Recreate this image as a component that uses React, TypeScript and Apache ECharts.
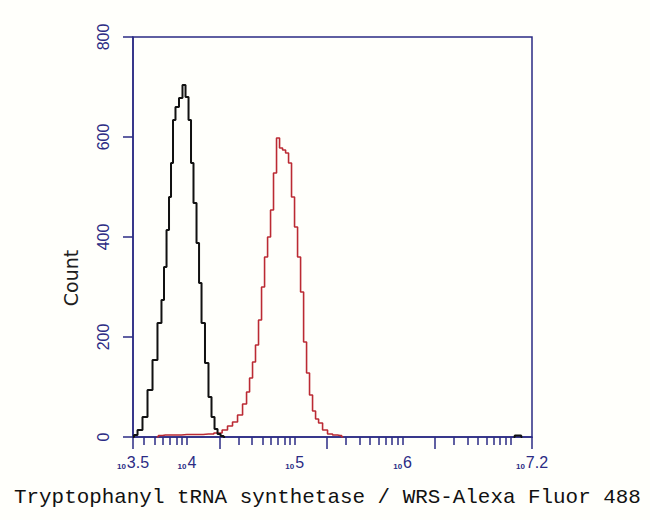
import React, { useEffect, useRef } from "react";
import * as echarts from "echarts";

// x values are log10(fluorescence intensity)
const blackLogX = [3.5, 3.519, 3.565, 3.611, 3.658, 3.704, 3.75, 3.778, 3.797, 3.825, 3.843, 3.862, 3.88, 3.908, 3.945, 3.973, 4.001, 4.029, 4.047, 4.075, 4.103, 4.122, 4.149, 4.186, 4.214, 4.242, 4.27, 4.298, 4.326, 4.354];
const blackCounts = [0, 4, 14, 40, 94, 154, 228, 274, 340, 414, 480, 548, 634, 660, 678, 704, 680, 634, 548, 468, 388, 308, 228, 148, 80, 40, 16, 6, 2, 0];

const blackEndLogX = [7.03, 7.05, 7.09, 7.11];
const blackEndCounts = [0, 3, 3, 0];

const redLogX = [3.72, 3.75, 3.8, 3.9, 4.0, 4.1, 4.2, 4.3, 4.353, 4.4, 4.446, 4.493, 4.539, 4.567, 4.595, 4.622, 4.65, 4.678, 4.706, 4.734, 4.762, 4.789, 4.817, 4.845, 4.873, 4.901, 4.929, 4.956, 4.984, 5.012, 5.04, 5.068, 5.096, 5.123, 5.151, 5.179, 5.207, 5.235, 5.281, 5.327, 5.374, 5.42, 5.45];
const redCounts = [0, 3, 4, 4, 5, 5, 6, 8, 14, 22, 30, 44, 66, 90, 118, 150, 184, 234, 300, 360, 400, 454, 528, 598, 578, 574, 568, 548, 480, 420, 360, 290, 190, 128, 84, 52, 36, 28, 14, 6, 4, 3, 0];

const xLabelValues = [3.5, 4, 5, 6, 7.2];
const xLabelExponents = ["3.5", "4", "5", "6", "7.2"];
const shortTickIntensities = [
  4e3, 5e3, 6e3, 7e3, 8e3, 9e3, 1e4,
  3e4, 4e4, 5e4, 6e4, 7e4, 8e4, 9e4, 1e5,
  3e5, 4e5, 5e5, 6e5, 7e5, 8e5, 9e5, 1e6,
  3e6, 4e6, 5e6, 6e6, 7e6, 8e6, 9e6, 1e7,
];
const longTickIntensities = [Math.pow(10, 3.5), 2e4, 2e5, 2e6, Math.pow(10, 7.2)];
const yTicks = [0, 200, 400, 600, 800];

const xTitle = "Tryptophanyl tRNA synthetase / WRS-Alexa Fluor 488";
const yTitle = "Count";

const NAVY = "#2b2b84";

export default function App() {
  const ref = useRef<HTMLDivElement>(null);
  useEffect(() => {
    if (!ref.current) return;
    const chart = echarts.init(ref.current, undefined, { renderer: "svg" });
    const pair = (xs: number[], ys: number[]) => xs.map((x, i) => [x, ys[i]]);
    chart.setOption({
      animation: false,
      backgroundColor: "#fffffb",
      title: {
        text: xTitle,
        left: 9,
        top: 482,
        textStyle: { fontFamily: "Liberation Mono", fontSize: 20.9, fontWeight: "normal", color: "#111" },
      },
      graphic: [
        {
          type: "text",
          x: 71,
          y: 278,
          rotation: Math.PI / 2,
          style: {
            text: yTitle,
            fontFamily: "DejaVu Sans",
            fontSize: 19,
            fill: "#1e1e1e",
            align: "center",
            verticalAlign: "middle",
          },
        },
      ],
      grid: {
        left: 133,
        top: 37,
        width: 399,
        height: 400,
        show: true,
        borderColor: NAVY,
        borderWidth: 1.5,
        backgroundColor: "transparent",
      },
      xAxis: [
        {
          type: "value",
          min: 3.5,
          max: 7.2,
          position: "bottom",
          splitLine: { show: false },
          axisLine: { show: true, lineStyle: { color: NAVY, width: 1.5 } },
          axisTick: {
            show: true,
            customValues: shortTickIntensities.map((v) => Math.log10(v)),
            length: 8,
            lineStyle: { color: NAVY, width: 1.5 },
          },
          axisLabel: {
            customValues: xLabelValues,
            margin: 17,
            color: NAVY,
            formatter: (v: number) => {
              let idx = 0;
              let best = Infinity;
              xLabelValues.forEach((lv, i) => {
                if (Math.abs(lv - v) < best) { best = Math.abs(lv - v); idx = i; }
              });
              return "{b|10}{e|" + xLabelExponents[idx] + "}";
            },
            rich: {
              b: { fontSize: 8, fontWeight: "bold", fontFamily: "Liberation Sans", color: NAVY, verticalAlign: "bottom", lineHeight: 16, padding: [0, 1, 0, 0] },
              e: { fontSize: 16, fontFamily: "Liberation Sans", color: NAVY, verticalAlign: "bottom", lineHeight: 16 },
            },
          },
        },
        {
          type: "value",
          min: 3.5,
          max: 7.2,
          position: "bottom",
          offset: 0,
          splitLine: { show: false },
          axisLine: { show: false },
          axisTick: {
            show: true,
            customValues: longTickIntensities.map((v) => Math.log10(v)),
            length: 12,
            lineStyle: { color: NAVY, width: 1.5 },
          },
          axisLabel: { show: false },
        },
      ],
      yAxis: {
        type: "value",
        min: yTicks[0],
        max: yTicks[yTicks.length - 1],
        interval: 200,
        splitLine: { show: false },
        axisLine: { show: true, lineStyle: { color: NAVY, width: 1.5 } },
        axisTick: { show: true, length: 10, lineStyle: { color: NAVY, width: 1.5 } },
        axisLabel: {
          rotate: 90,
          margin: 22,
          color: NAVY,
          fontFamily: "Liberation Sans",
          fontSize: 16,
        },
      },
      series: [
        {
          type: "line",
          xAxisIndex: 0,
          data: pair(redLogX, redCounts),
          step: "middle",
          showSymbol: false,
          lineStyle: { color: "#bb2a33", width: 1.6 },
          z: 3,
        },
        {
          type: "line",
          xAxisIndex: 0,
          data: pair(blackLogX, blackCounts),
          step: "middle",
          showSymbol: false,
          lineStyle: { color: "#111", width: 2 },
          z: 4,
        },
        {
          type: "line",
          xAxisIndex: 0,
          data: pair(blackEndLogX, blackEndCounts),
          step: "middle",
          showSymbol: false,
          lineStyle: { color: "#111", width: 2 },
          z: 4,
        },
      ],
    });
    return () => chart.dispose();
  }, []);
  return <div ref={ref} style={{ position: "absolute", left: 0, top: 0, width: 650, height: 520 }} />;
}
